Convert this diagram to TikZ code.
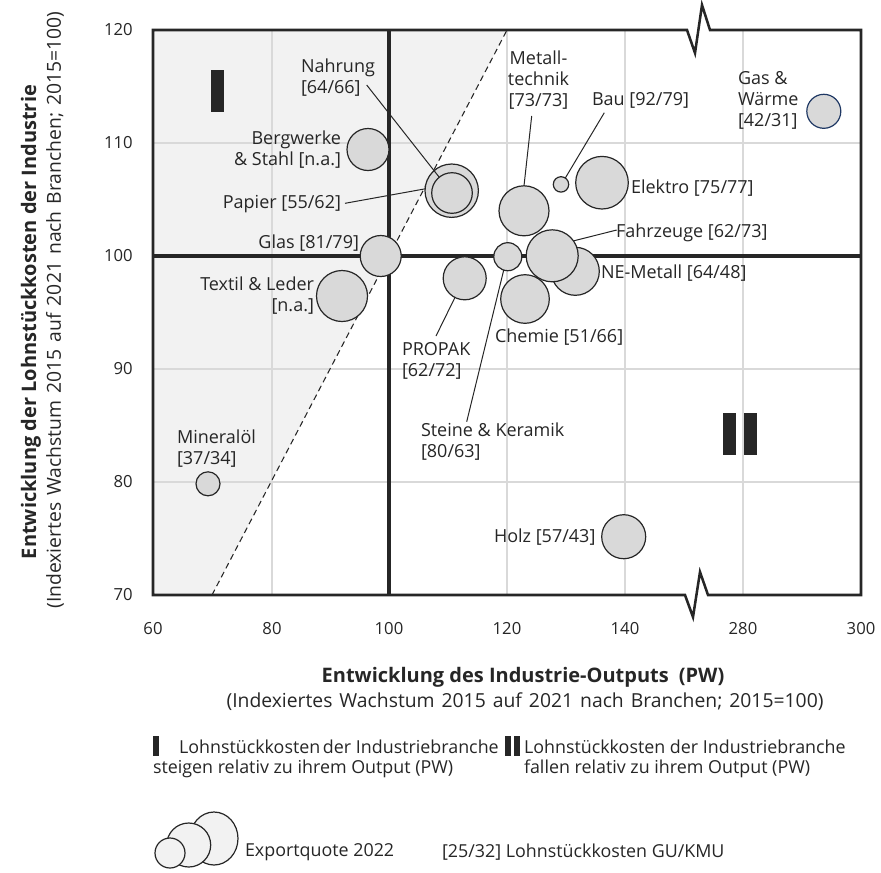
\documentclass[tikz,border=0pt]{standalone}
\usepackage{fontspec}
\setmainfont{Open Sans}
\usetikzlibrary{shapes.geometric}
\definecolor{ink}{HTML}{262626}
\definecolor{bub}{HTML}{D9D9D9}
\definecolor{shadec}{HTML}{F2F2F2}
\definecolor{gridc}{HTML}{D9D9D9}
\definecolor{navy}{HTML}{1F3864}
\newcommand{\widespacing}{\spaceskip=0.36em\relax}
\begin{document}
\begin{tikzpicture}[x=0.75pt,y=-0.75pt,
  bubble/.style={circle, draw=ink, fill=bub, line width=0.9pt, inner sep=0pt, outer sep=0pt, minimum size=#1*1.5pt},
  legbub/.style={ellipse, draw=ink, fill=shadec, line width=0.9pt, inner sep=0pt, outer sep=0pt},
  lbl/.style={inner sep=0pt, outer sep=0pt, text=ink, font=\fontsize{13.5}{15.8}\selectfont},
  legtext/.style={inner sep=0pt, outer sep=0pt, text=ink, font=\fontsize{13.4}{16}\selectfont},
  tick/.style={inner sep=0pt, text=ink, font=\fontsize{12.5}{15}\selectfont},
  axtitle/.style={inner sep=0pt, text=ink, font=\fontsize{15}{18}\selectfont\bfseries},
  axsub/.style={inner sep=0pt, text=ink, font=\fontsize{14.5}{17}\selectfont\widespacing},
  leader/.style={draw=ink, line width=0.75pt},
  gridline/.style={draw=gridc, line width=1.1pt},
  thick100/.style={draw=ink, line width=2.3pt},
  framestyle/.style={draw=ink, line width=1.9pt, line join=miter},
  marker/.style={fill=ink}
]
\useasboundingbox (0,0) rectangle (881,872);

% shaded area above the diagonal
\fill[shadec] (153,30) -- (507,30) -- (212,595) -- (153,595) -- cycle;

% grid
\foreach \gx in {272,507,625,743} \draw[gridline] (\gx,30) -- (\gx,595);
\foreach \gy in {143,369,482} \draw[gridline] (153,\gy) -- (861,\gy);

% diagonal
\draw[ink, line width=0.8pt, dash pattern=on 4.5pt off 3pt] (212,595) -- (507,30);

% thick 100 lines
\draw[thick100] (389,30) -- (389,595);
\draw[thick100] (153,256) -- (861,256);

% frame with axis breaks
\draw[framestyle] (153,30) -- (687,30) -- (695,53) -- (702,5) -- (710,30) -- (861,30)
  -- (861,595) -- (708,595) -- (700,572) -- (693,617) -- (685,595) -- (153,595) -- cycle;

% quadrant markers
\fill[marker] (211,70) rectangle (224,112);
\fill[marker] (723,413) rectangle (736,455);
\fill[marker] (744,413) rectangle (757,455);

% tick labels
\node[tick, anchor=east] (y120) at (133,30) {120};
\node[tick, anchor=east] (y110) at (133,143) {110};
\node[tick, anchor=east] (y100) at (133,256) {100};
\node[tick, anchor=east] (y90) at (133,369) {90};
\node[tick, anchor=east] (y80) at (133,482) {80};
\node[tick, anchor=east] (y70) at (133,595) {70};
\node[tick] (x60) at (153,629) {60};
\node[tick] (x80) at (272,629) {80};
\node[tick] (x100) at (389,629) {100};
\node[tick] (x120) at (507,629) {120};
\node[tick] (x140) at (625,629) {140};
\node[tick] (x280) at (743,629) {280};
\node[tick] (x300) at (861,629) {300};

% axis titles
\node[axtitle, rotate=90] (ytitle) at (31,322) {Entwicklung der Lohnstückkosten der Industrie};
\node[axsub, rotate=90] (ysub) at (55,310) {(Indexiertes Wachstum 2015 auf 2021 nach Branchen; 2015=100)};
\node[axtitle] (xtitle) at (523,677) {Entwicklung des Industrie-Outputs\hspace{0.5em}(PW)};
\node[axsub] (xsub) at (525,702) {(Indexiertes Wachstum 2015 auf 2021 nach Branchen; 2015=100)};

% bubbles
\node[bubble=21] (berg) at (368,149.5) {};
\node[bubble=26.7] (papier) at (451.7,190.7) {};
\node[bubble=20.3] (nahrung) at (452,193) {};
\node[bubble=20.5] (glas) at (380.7,256) {};
\node[bubble=25.5] (textil) at (342,296) {};
\node[bubble=12] (mineral) at (208,483.8) {};
\node[bubble=25] (metall) at (524,210.8) {};
\node[bubble=7.7] (bau) at (561,184.4) {};
\node[bubble=26.3] (elektro) at (602,182.7) {};
\node[bubble=17, draw=navy] (gas) at (823.8,111.3) {};
\node[bubble=24] (nemet) at (575.3,271.3) {};
\node[bubble=26] (fahr) at (552.2,255.8) {};
\node[bubble=14] (steine) at (507.8,256.7) {};
\node[bubble=24.3] (chemie) at (525,299) {};
\node[bubble=21.5] (propak) at (464.7,278.3) {};
\node[bubble=22] (holz) at (623.7,536.7) {};

% labels
\node[lbl, anchor=west, align=left] (nahrungL) at (301,78) {Nahrung\\{}[64/66]};
\node[lbl, anchor=east, align=right] (bergL) at (341,150) {Bergwerke\\\& Stahl [n.a.]};
\node[lbl, anchor=east] (papierL) at (341,204) {Papier [55/62]};
\node[lbl, anchor=east] (glasL) at (359,243) {Glas [81/79]};
\node[lbl, anchor=east, align=right] (textilL) at (314,296) {Textil \& Leder\\{}[n.a.]};
\node[lbl, anchor=west, align=left] (mineralL) at (177,449) {Mineralöl\\{}[37/34]};
\node[lbl, anchor=west, align=left] (propakL) at (402,361) {PROPAK\\{}[62/72]};
\node[lbl, anchor=west, align=left] (steineL) at (421,442) {Steine \& Keramik\\{}[80/63]};
\node[lbl, anchor=west] (chemieL) at (495,337) {Chemie [51/66]};
\node[lbl, anchor=west] (holzL) at (494,537) {Holz [57/43]};
\node[lbl, align=center] (metallL) at (538.5,80) {Metall-\\technik\\{}[73/73]};
\node[lbl, anchor=west] (bauL) at (592,100) {Bau [92/79]};
\node[lbl, anchor=west, align=left] (gasL) at (738,100) {Gas \&\\Wärme\\{}[42/31]};
\node[lbl, anchor=west] (elektroL) at (631,188) {Elektro [75/77]};
\node[lbl, anchor=west] (fahrL) at (616,233) {Fahrzeuge [62/73]};
\node[lbl, anchor=west] (nemetL) at (601,273) {NE-Metall [64/48]};

% leader lines
\coordinate (nahrungA) at (366.7,85);
\coordinate (papierA) at (345,203.3);
\coordinate (metallA) at (531.7,116);
\coordinate (bauA) at (604.3,112.7);
\coordinate (fahrA) at (616.7,230);
\coordinate (propakA) at (436,336);
\coordinate (steineA) at (466.7,421.7);
\draw[leader] (nahrungA) -- (nahrung.129);
\draw[leader] (papierA) -- (papier.176);
\draw[leader] (metallA) -- (metall.north);
\draw[leader] (bauA) -- (bau.56);
\draw[leader] (fahrA) -- (fahr.35);
\draw[leader] (propakA) -- (propak.243);
\draw[leader] (steineA) -- (steine.253);

% legend
\fill[marker] (153,736) rectangle (159,756);
\node[legtext, anchor=west] (legIa) at (179,747) {Lohnstückkosten\hspace{0.15em}der Industriebranche};
\node[legtext, anchor=west] (legIb) at (153,769) {steigen relativ zu ihrem Output (PW)};
\fill[marker] (505,736) rectangle (511,756);
\fill[marker] (514,736) rectangle (520,756);
\node[legtext, anchor=west] (legIIa) at (524,747) {Lohnstückkosten der Industriebranche};
\node[legtext, anchor=west] (legIIb) at (524,769) {fallen relativ zu ihrem Output (PW)};

\node[legbub, minimum width=36pt, minimum height=39.75pt] (lb3) at (214,838.5) {};
\node[legbub, minimum width=33pt, minimum height=33pt] (lb2) at (188.7,845) {};
\node[legbub, minimum width=22.5pt, minimum height=22.5pt] (lb1) at (170,853) {};
\node[legtext, anchor=west] (legExp) at (245,852) {Exportquote 2022};
\node[legtext, anchor=west] (legKost) at (442,852) {[25/32] Lohnstückkosten GU/KMU};
\end{tikzpicture}
\end{document}
